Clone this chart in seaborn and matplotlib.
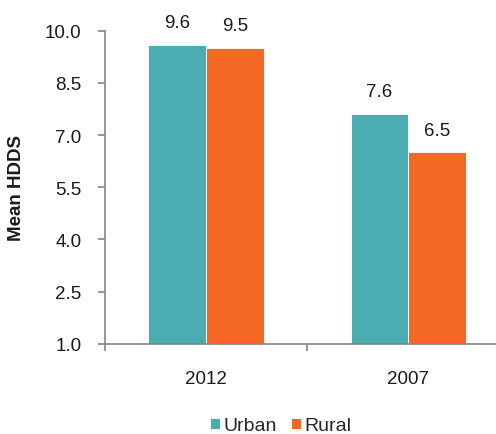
import matplotlib
matplotlib.use("Agg")
import matplotlib.pyplot as plt
import seaborn as sns
import pandas as pd

years = ["2012", "2007"]
areas = ["Urban", "Rural"]
urban_hdds = [9.6, 7.6]
rural_hdds = [9.5, 6.5]
y_ticks = [1.0, 2.5, 4.0, 5.5, 7.0, 8.5, 10.0]

df = pd.DataFrame({
    "Year": years * 2,
    "Area": ["Urban"] * len(years) + ["Rural"] * len(years),
    "HDDS": urban_hdds + rural_hdds,
})

sns.set_theme(style="white")
plt.rcParams["font.family"] = ["Liberation Sans", "DejaVu Sans"]

palette = {"Urban": "#49adb1", "Rural": "#f26824"}

fig = plt.figure(figsize=(4.96, 4.35), dpi=100)
ax = fig.add_axes([0.2117, 0.2076, 0.815, 0.7195])

sns.barplot(data=df, x="Year", y="HDDS", hue="Area", order=years,
            hue_order=areas, palette=palette, width=0.57, gap=0,
            saturation=1, ax=ax, legend=True, edgecolor="white",
            linewidth=0.6)

ax.set_ylim(1.0, 10.0)
ax.set_xlim(-0.5, 1.5)
ax.set_yticks(y_ticks)
ax.set_yticklabels([f"{v:.1f}" for v in y_ticks])

for cont in ax.containers:
    ax.bar_label(cont, fmt="%.1f", padding=10, fontsize=13.5,
                 color="#1a1a1a", clip_on=False)

spine_color = "#858585"
for side in ["top", "right"]:
    ax.spines[side].set_visible(False)
for side in ["left", "bottom"]:
    ax.spines[side].set_color(spine_color)
    ax.spines[side].set_linewidth(1.2)

ax.tick_params(axis="y", which="major", direction="out", length=5,
               width=1.2, color=spine_color, pad=12, labelsize=13.5,
               labelcolor="#1a1a1a", left=True)
ax.tick_params(axis="x", which="major", length=0, pad=19, labelsize=13.5,
               labelcolor="#1a1a1a")
ax.set_xticks([-0.5, 0.5, 1.5], minor=True)
ax.tick_params(axis="x", which="minor", direction="out", length=5,
               width=1.2, color=spine_color, bottom=True)

ax.set_xlabel("")
ax.set_ylabel("Mean HDDS", fontsize=13.5, fontweight="bold",
              color="#1a1a1a")
ax.yaxis.set_label_coords(-0.197, 0.5)

handles, labels = ax.get_legend_handles_labels()
ax.legend(handles, labels, loc="center", bbox_to_anchor=(281 / 496, 1 - 427 / 435),
          bbox_transform=fig.transFigure, ncol=2, frameon=False,
          handlelength=0.47, handleheight=0.47, handletextpad=0.2,
          columnspacing=0.75, fontsize=14)

fig.savefig("out.png", dpi=100)
